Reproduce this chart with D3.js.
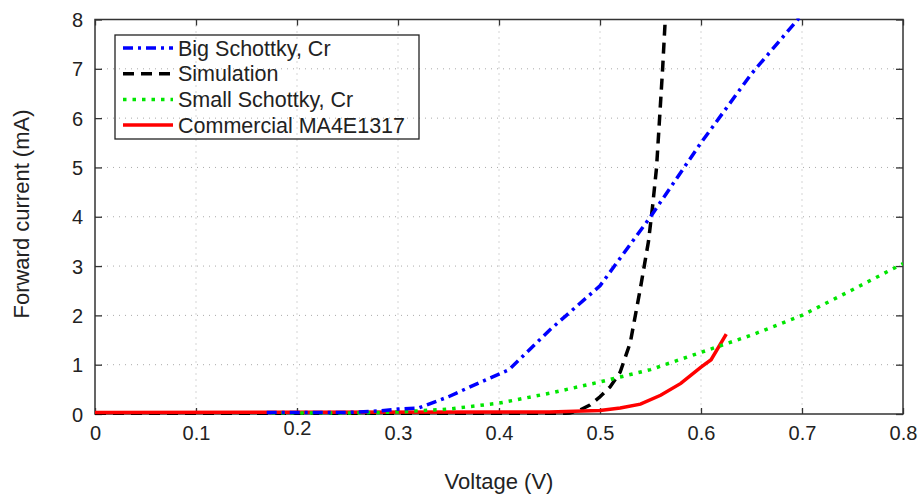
<!DOCTYPE html>
<html>
<head>
<meta charset="utf-8">
<script src="https://cdn.jsdelivr.net/npm/d3@7"></script>
<style>
  body { margin: 0; background: #fff; }
  svg { font-family: "Liberation Sans", Arial, sans-serif; }
</style>
</head>
<body>
<div id="chart"></div>
<script>
// tick values
var xTicks = [0, 0.1, 0.2, 0.3, 0.4, 0.5, 0.6, 0.7, 0.8];
var yTicks = [0, 1, 2, 3, 4, 5, 6, 7, 8];

// Big Schottky, Cr
var bigV = [0.17, 0.25, 0.28, 0.30, 0.32, 0.35, 0.38, 0.41, 0.45, 0.50, 0.55, 0.60, 0.65, 0.70];
var bigI = [0.03, 0.03, 0.06, 0.10, 0.12, 0.35, 0.63, 0.90, 1.70, 2.60, 4.00, 5.50, 6.90, 8.10];

// Simulation
var simV = [0, 0.45, 0.47, 0.48, 0.49, 0.50, 0.51, 0.52, 0.53, 0.54, 0.548, 0.552, 0.556, 0.559, 0.562, 0.5646];
var simI = [0, 0.0, 0.02, 0.08, 0.18, 0.35, 0.55, 0.85, 1.45, 2.55, 3.5, 4.2, 5.0, 6.0, 7.0, 8.0];

// Small Schottky, Cr
var smallV = [0.175, 0.25, 0.30, 0.35, 0.40, 0.45, 0.50, 0.55, 0.60, 0.65, 0.70, 0.75, 0.80];
var smallI = [0.02, 0.02, 0.04, 0.10, 0.22, 0.42, 0.65, 0.90, 1.25, 1.60, 2.00, 2.52, 3.05];

// Commercial MA4E1317
var comV = [0, 0.45, 0.50, 0.52, 0.54, 0.56, 0.58, 0.60, 0.61, 0.625];
var comI = [0.03, 0.04, 0.07, 0.12, 0.20, 0.38, 0.62, 0.95, 1.10, 1.62];

var legendNames = ["Big Schottky, Cr", "Simulation", "Small Schottky, Cr", "Commercial MA4E1317"];

var width = 919, height = 496;
var pL = 95, pR = 903, pT = 19.5, pB = 414;

var svg = d3.select("#chart").append("svg")
    .attr("width", width)
    .attr("height", height);

var x = d3.scaleLinear().domain([0, 0.8]).range([pL, pR]);
var y = d3.scaleLinear().domain([0, 8]).range([pB, pT]);

// grid
var grid = svg.append("g").attr("stroke", "#aaa").attr("stroke-dasharray", "1,5").attr("stroke-width", 1);
xTicks.slice(1, -1).forEach(function(t) {
  grid.append("line").attr("x1", x(t)).attr("x2", x(t)).attr("y1", pT).attr("y2", pB);
});
yTicks.slice(1, -1).forEach(function(t) {
  grid.append("line").attr("x1", pL).attr("x2", pR).attr("y1", y(t)).attr("y2", y(t));
});

// axes, ticks inside like matlab
var axisCol = "#333";
var xAxis = d3.axisBottom(x).tickValues(xTicks).tickSizeInner(-6).tickSizeOuter(0)
    .tickFormat(function(d) { return d === 0 ? "0" : d3.format(".1f")(d); });
var gx = svg.append("g").attr("transform", "translate(0," + pB + ")").call(xAxis);
var xAxisTop = d3.axisTop(x).tickValues(xTicks).tickSizeInner(-6).tickSizeOuter(0).tickFormat("");
var gxt = svg.append("g").attr("transform", "translate(0," + pT + ")").call(xAxisTop);
var yAxis = d3.axisLeft(y).tickValues(yTicks).tickSizeInner(-7).tickSizeOuter(0);
var gy = svg.append("g").attr("transform", "translate(" + pL + ",0)").call(yAxis);
var yAxisRight = d3.axisRight(y).tickValues(yTicks).tickSizeInner(-7).tickSizeOuter(0).tickFormat("");
var gyr = svg.append("g").attr("transform", "translate(" + pR + ",0)").call(yAxisRight);

[gx, gxt, gy, gyr].forEach(function(g) {
  g.select(".domain").remove();
  g.selectAll(".tick line").attr("stroke", axisCol).attr("stroke-width", 1.3);
  g.selectAll("text").attr("fill", "#222").attr("font-size", 20).attr("font-family", "Liberation Sans, Arial, sans-serif");
});
gx.selectAll("text").attr("y", 12).attr("dy", "0.71em")
  .attr("transform", function(d) { return d === 0.2 ? "translate(0,-5)" : null; });
gy.selectAll("text").attr("x", -12).attr("dy", "0.35em");

svg.append("rect")
    .attr("x", pL).attr("y", pT)
    .attr("width", pR - pL).attr("height", pB - pT)
    .attr("fill", "none").attr("stroke", axisCol).attr("stroke-width", 1.5);

// series
svg.append("clipPath").attr("id", "clip").append("rect")
    .attr("x", pL).attr("y", pT - 1).attr("width", pR - pL).attr("height", pB - pT + 2);

var line = d3.line().x(function(d) { return x(d[0]); }).y(function(d) { return y(d[1]); });
function pairs(vs, is) { return vs.map(function(v, i) { return [v, is[i]]; }); }

var series = [
  {data: pairs(simV, simI), color: "#000", dash: "11,7", w: 3.5},
  {data: pairs(comV, comI), color: "#ff0000", dash: null, w: 3.5},
  {data: pairs(smallV, smallI), color: "#00e600", dash: "3.5,6", w: 3.5},
  {data: pairs(bigV, bigI), color: "#0000ff", dash: "10,5,3,5", w: 3.5}
];

var plot = svg.append("g").attr("clip-path", "url(#clip)");
series.forEach(function(s) {
  plot.append("path")
      .datum(s.data)
      .attr("d", line)
      .attr("fill", "none")
      .attr("stroke", s.color)
      .attr("stroke-width", s.w)
      .attr("stroke-dasharray", s.dash);
});

// legend
var legendStyles = [series[3], series[0], series[2], series[1]];
var lg = svg.append("g");
lg.append("rect").attr("x", 115).attr("y", 35).attr("width", 304).attr("height", 104)
  .attr("fill", "none").attr("stroke", "#222").attr("stroke-width", 1.3);
legendNames.forEach(function(name, i) {
  var yy = 48 + i * 25.7;
  lg.append("line").attr("x1", 123).attr("x2", 173).attr("y1", yy).attr("y2", yy)
    .attr("stroke", legendStyles[i].color).attr("stroke-width", 3.5)
    .attr("stroke-dasharray", legendStyles[i].dash);
  lg.append("text").attr("x", 178).attr("y", yy).attr("dy", "0.36em")
    .attr("font-size", 21.5).attr("fill", "#222").text(name);
});

// axis titles
svg.append("text").attr("x", (pL + pR) / 2).attr("y", 489)
  .attr("text-anchor", "middle").attr("font-size", 22).attr("fill", "#222").text("Voltage (V)");
svg.append("text").attr("transform", "translate(29,214) rotate(-90)")
  .attr("text-anchor", "middle").attr("font-size", 22).attr("fill", "#222").text("Forward current (mA)");
</script>
</body>
</html>
